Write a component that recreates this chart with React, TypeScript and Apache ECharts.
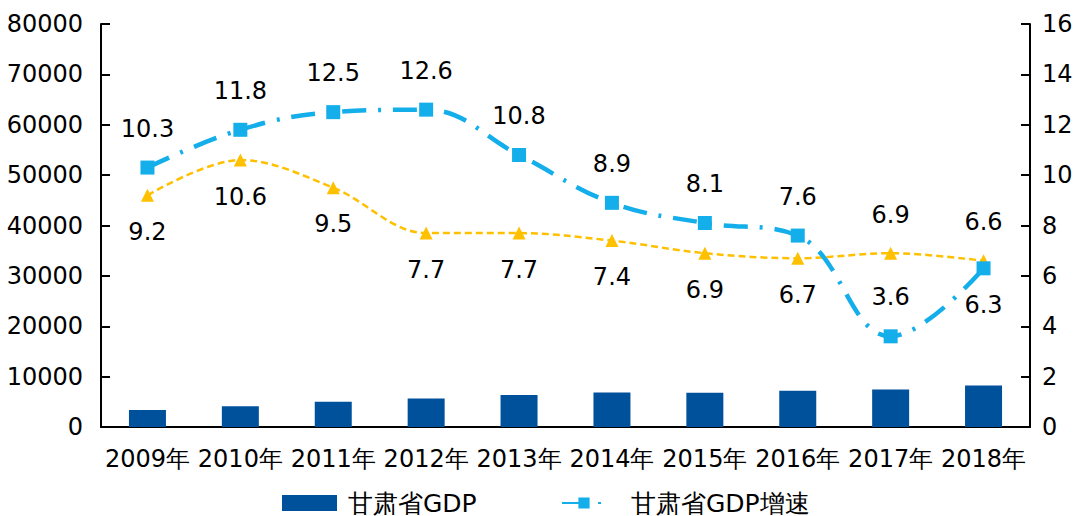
import React, { useEffect, useRef } from "react";
import * as echarts from "echarts";

const categories = ["2009年", "2010年", "2011年", "2012年", "2013年", "2014年", "2015年", "2016年", "2017年", "2018年"];
const gdp = [3387, 4120, 5020, 5650, 6330, 6836, 6790, 7200, 7460, 8246];
const gdpGrowth = [10.3, 11.8, 12.5, 12.6, 10.8, 8.9, 8.1, 7.6, 3.6, 6.3];
const nationalGrowth = [9.2, 10.6, 9.5, 7.7, 7.7, 7.4, 6.9, 6.7, 6.9, 6.6];
const leftTicks = { min: 0, max: 80000, interval: 10000 };
const rightTicks = { min: 0, max: 16, interval: 2 };

const FONT = "'DejaVu Sans', sans-serif";
const TXT = "#000";
const FS = 24;
const LFS = 25;

export default function App() {
  const ref = useRef<HTMLDivElement>(null);
  useEffect(() => {
    const chart = echarts.init(ref.current!, null, { renderer: "svg" });
    const blueData = gdpGrowth.map((v, i) =>
      i === gdpGrowth.length - 1
        ? { value: v, label: { position: "bottom", distance: 18 } }
        : v
    );
    const yellowData = nationalGrowth.map((v, i) =>
      i >= nationalGrowth.length - 2
        ? { value: v, label: { position: "top", distance: 20 } }
        : v
    );
    chart.setOption({
      animation: false,
      textStyle: { fontFamily: FONT },
      grid: { left: 101, right: 56, top: 24, bottom: 89 },
      legend: [
        {
          data: [{ name: "甘肃省GDP", icon: "rect" }],
          left: 277,
          top: 484,
          itemWidth: 55,
          itemHeight: 16,
          textStyle: { fontSize: LFS, lineHeight: 28, color: TXT, fontFamily: FONT, padding: [0, 0, 0, 6] },
        },
        {
          data: ["甘肃省GDP增速"],
          left: 556,
          top: 484,
          itemWidth: 44,
          itemHeight: 14,
          textStyle: { fontSize: LFS, lineHeight: 28, color: TXT, fontFamily: FONT, padding: [0, 0, 0, 20] },
        },
      ],
      xAxis: {
        type: "category",
        data: categories,
        boundaryGap: true,
        axisLine: { lineStyle: { color: "#000", width: 2 } },
        axisTick: { inside: true, length: 9, lineStyle: { color: "#000", width: 2 } },
        axisLabel: { fontSize: FS, color: TXT, margin: 20, fontFamily: FONT, interval: 0 },
      },
      yAxis: [
        {
          type: "value",
          ...leftTicks,
          axisLine: { show: true, lineStyle: { color: "#000", width: 2 } },
          axisTick: { show: true, inside: true, length: 9, lineStyle: { color: "#000", width: 2 } },
          axisLabel: { fontSize: FS, color: TXT, margin: 18, fontFamily: FONT, formatter: (v: number) => String(v) },
          splitLine: { show: false },
        },
        {
          type: "value",
          ...rightTicks,
          axisLine: { show: true, lineStyle: { color: "#000", width: 2 } },
          axisTick: { show: true, inside: true, length: 9, lineStyle: { color: "#000", width: 2 } },
          axisLabel: { fontSize: FS, color: TXT, margin: 12, fontFamily: FONT },
          splitLine: { show: false },
        },
      ],
      series: [
        {
          name: "甘肃省GDP",
          type: "bar",
          data: gdp,
          barWidth: 37,
          itemStyle: { color: "#00519c" },
        },
        {
          name: "全国GDP增速",
          type: "line",
          yAxisIndex: 1,
          data: yellowData,
          smooth: 0.35,
          symbol: "triangle",
          symbolSize: 13,
          itemStyle: { color: "#ffc000" },
          lineStyle: { color: "#ffc000", width: 2.5, type: [7, 4] },
          label: {
            show: true,
            position: "bottom",
            distance: 18,
            fontSize: FS,
            color: TXT,
            fontFamily: FONT,
          },
          z: 3,
        },
        {
          name: "甘肃省GDP增速",
          type: "line",
          yAxisIndex: 1,
          data: blueData,
          smooth: 0.4,
          symbol: "rect",
          symbolSize: 14,
          itemStyle: { color: "#14aeea" },
          lineStyle: { color: "#14aeea", width: 4.5, type: [24, 12, 3, 12] },
          label: {
            show: true,
            position: "top",
            distance: 20,
            fontSize: FS,
            color: TXT,
            fontFamily: FONT,
          },
          z: 4,
        },
      ],
    });
    return () => chart.dispose();
  }, []);
  return <div ref={ref} style={{ width: 1086, height: 516, position: "absolute", left: 0, top: 0 }} />;
}
